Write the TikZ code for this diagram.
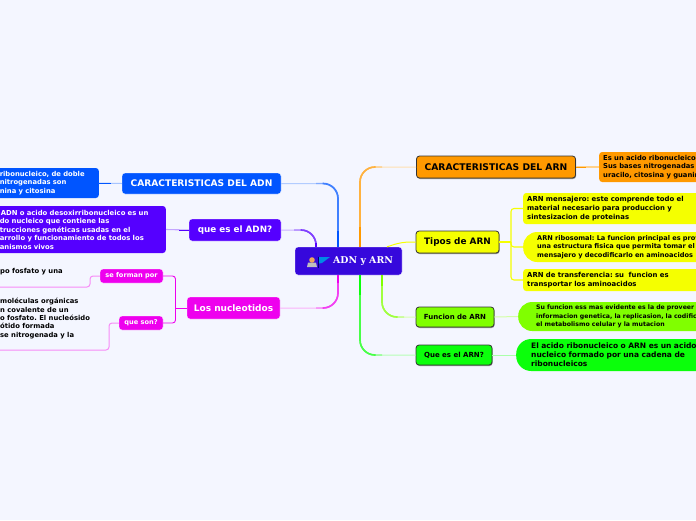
\documentclass[tikz,border=0pt]{standalone}
\usepackage{fontspec}
\setmainfont{DejaVu Sans}
\newfontfamily\titlefont{DejaVu Serif}
\usetikzlibrary{calc,shadows}
\definecolor{bgc}{HTML}{F4F6FF}
\definecolor{cblue}{HTML}{0055FF}
\definecolor{cviolet}{HTML}{5500FF}
\definecolor{cmag}{HTML}{EE00EE}
\definecolor{corange}{HTML}{FF9900}
\definecolor{cyel}{HTML}{F5FF00}
\definecolor{clime}{HTML}{80FF00}
\definecolor{cgreen}{HTML}{0BFF0B}
\definecolor{croot}{HTML}{3608DC}
\newcommand{\fsz}[2]{\fontsize{#1pt}{#2pt}\selectfont\bfseries\frenchspacing}
\tikzset{
  x=1pt,y=-1pt,
  topicbox/.style={rounded corners=3pt,inner sep=0pt,align=center,text=white,draw=white,line width=.3pt},
  darkbox/.style={rounded corners=3pt,inner sep=0pt,align=center,text=black,draw=black!80,line width=.8pt,
     drop shadow={shadow xshift=.6pt,shadow yshift=-1pt,fill=black!45,opacity=1}},
  leafbox/.style={rounded corners=3pt,inner ysep=0pt,align=left,anchor=west,text width=300pt},
  leftleaf/.style={rounded corners=3pt,inner ysep=0pt,inner xsep=10pt,align=left,anchor=east,text=white},
  plain/.style={inner sep=0pt,align=left,anchor=west,text=black},
}
% root branch: faint at the far node, strong toward the root
\newcommand{\branch}[3]{%
  \draw[#1!30,line width=1pt,rounded corners=15pt] (#2) -| (#3);
  \draw[#1!50,line width=1.3pt,rounded corners=15pt] ($(#2 -| #3)!22pt!(#2)$) -| (#3);
  \draw[#1!75,line width=1.7pt,rounded corners=15pt] ($(#2 -| #3)!15.5pt!(#2)$) -| (#3);
  \draw[#1,line width=2.5pt] ($(#2 -| #3)!.75!(#3)$) -- (#3);
}
\begin{document}
\begin{tikzpicture}
\useasboundingbox (0,0) rectangle (696,520);
\clip (0,0) rectangle (696,520);
\fill[bgc] (0,0) rectangle (696,520);

% root branches are drawn under the nodes
\coordinate (rootn) at (348.5,247);
\coordinate (roots) at (348.5,275);

% root
\node[topicbox,fill=croot,minimum width=107pt,minimum height=28pt] (root) at (348.5,261) {};
\node[inner sep=0pt,text=white,anchor=west,font=\titlefont\fsz{9.4}{11}] (roottext) at (333,261) {ADN y ARN};
\coordinate (icon) at (307,257);
\fill[black!25] ($(icon)+(0,10)$) -- ($(icon)+(1,5.5)$) -- ($(icon)+(9,5.5)$) -- ($(icon)+(10,10)$) -- cycle;
\fill[orange!60!brown!70] ($(icon)+(5,3)$) circle (2.8pt);
\draw[black!55!blue,line width=.9pt] ($(icon)+(11.5,-.5)$) -- ($(icon)+(11.5,11)$);
\fill[blue!40!cyan!90!black] ($(icon)+(12,0)$) -- ($(icon)+(23,0)$) -- ($(icon)+(15,6)$) -- ($(icon)+(12,6.5)$) -- cycle;

% right main topics
\node[darkbox,fill=corange,minimum width=159pt,minimum height=22pt,font=\fsz{9.2}{10}] (carn) at (496,167) {CARACTERISTICAS DEL ARN};
\node[darkbox,fill=cyel,minimum width=83pt,minimum height=22pt,font=\fsz{8.9}{11}] (tipos) at (457.5,242) {Tipos de ARN};
\node[darkbox,fill=clime,minimum width=78pt,minimum height=20pt,font=\fsz{7}{9}] (func) at (455,317) {Funcion de ARN};
\node[darkbox,fill=cgreen,minimum width=76pt,minimum height=20pt,font=\fsz{7}{9}] (queesarn) at (454,355) {Que es el ARN?};

% right leaves
\node[leafbox,fill=corange,inner xsep=4pt,minimum height=30pt,font=\fsz{6.8}{8.2}] (l1) at (599,167) {Es un acido ribonucleico\\Sus bases nitrogenadas\\uracilo, citosina y guanina};
\node[leafbox,fill=cyel,inner xsep=4pt,minimum height=31pt,font=\fsz{6.9}{8.6}] (l2) at (523,208.5) {ARN mensajero: este comprende todo el\\material necesario para produccion y\\sintesizacion de proteinas};
\node[leafbox,fill=cyel,rounded corners=14pt,inner xsep=14pt,minimum height=30pt,font=\fsz{6.6}{8.2}] (l3) at (523,247) {ARN ribosomal: La funcion principal es proveer\\una estructura fisica que permita tomar el ARN\\mensajero y decodificarlo en aminoacidos};
\node[leafbox,fill=cyel,inner xsep=4pt,minimum height=22pt,font=\fsz{6.9}{8.3}] (l4) at (523,280) {ARN de transferencia: su\ \ funcion es\\transportar los aminoacidos};
\node[leafbox,fill=clime,rounded corners=14pt,inner xsep=18pt,minimum height=29pt,font=\fsz{6.2}{8.2}] (l5) at (518,316.5) {Su funcion ess mas evidente es la de proveer la\\informacion genetica, la replicasion, la codificacion\\el metabolismo celular y la mutacion};
\node[leafbox,fill=cgreen,rounded corners=15pt,inner xsep=15pt,minimum height=32pt,font=\fsz{7.5}{9}] (l6) at (516,355) {El acido ribonucleico o ARN es un acido\\nucleico formado por una cadena de\\ribonucleicos};

% left main topics
\node[topicbox,fill=cblue,minimum width=159pt,minimum height=21pt,font=\fsz{9.1}{10}] (cadn) at (201.5,183.5) {CARACTERISTICAS DEL ADN};
\node[topicbox,fill=cviolet,minimum width=92pt,minimum height=22pt,font=\fsz{8.8}{11}] (queadn) at (235,230) {que es el ADN?};
\node[topicbox,fill=cmag,minimum width=93pt,minimum height=22pt,font=\fsz{9}{11}] (nucl) at (233.5,308) {Los nucleotidos};
\node[topicbox,fill=cmag,minimum width=63pt,minimum height=14pt,font=\fsz{6.6}{8}] (forman) at (131.5,276) {se forman por};
\node[topicbox,fill=cmag,minimum width=44pt,minimum height=14pt,font=\fsz{6.6}{8}] (queson) at (141,323) {que son?};

% left leaves
\node[leftleaf,fill=cblue,minimum width=109pt,text width=89pt,minimum height=30pt,font=\fsz{6.8}{8.2}] (b1) at (99,183) {ribonucleico, de doble\\nitrogenadas son\\nina y citosina};
\node[leftleaf,fill=cviolet,minimum width=176pt,text width=156pt,minimum height=47pt,font=\fsz{6.85}{8.5}] (b2) at (166,229.5) {\hspace{1pt}ADN o acido desoxirribonucleico es un\\do nucleico que contiene las\\trucciones genéticas usadas en el\\arrollo y funcionamiento de todos los\\anismos vivos};
\node[plain,font=\fsz{6.8}{8.3}] (t1) at (0,271.5) {po fosfato y una};
\node[plain,font=\fsz{6.8}{8.3}] (t2) at (0,318.5) {moléculas orgánicas\\n covalente de un\\o fosfato. El nucleósido\\ótido formada\\se nitrogenada y la};

% root branches
\branch{cblue}{cadn.east}{root.north -| 338,0}
\branch{cviolet}{queadn.east}{root.north -| 316,0}
\branch{cmag}{nucl.east}{root.south -| 338,0}
\branch{corange}{carn.west}{root.north -| 360,0}
\branch{clime}{func.west}{root.south -| 382,0}
\branch{cgreen}{queesarn.west}{root.south -| 360,0}
\draw[cyel,line width=1pt,rounded corners=8pt] (tipos.west) -- ($(tipos.west)+(-14,0)$) -- (root.north -| 387,0);

% leaf connectors
\draw[corange!45,line width=1.1pt] (carn.east) -- (l1.west);
\draw[corange,line width=1pt] (carn.east) -- ++(10,0);
\coordinate (spine) at (511,242);
\draw[cyel,line width=1.1pt] (tipos.east) -- (spine);
\draw[cyel,line width=1.1pt,rounded corners=3pt] (l2.west) -| (spine) |- (l4.west);
\draw[cyel,line width=1.1pt,rounded corners=3pt] (spine) |- (l3.west);
\draw[clime!35,line width=1pt] (func.east) -- (l5.west);
\draw[cgreen!35,line width=1pt] (queesarn.east) -- (l6.west);
\draw[cblue!35,line width=1pt] (cadn.west) -- (b1.east);
\draw[cblue,line width=.8pt] (b1.east) -- ++(12,0);
\draw[cviolet!35,line width=1.1pt] (queadn.west) -- (b2.east);
\draw[cviolet,line width=.8pt] (queadn.west) -- ++(-10,0);
\coordinate (mspine) at (175.5,308);
\draw[cmag,line width=1pt] (nucl.west) -- (mspine);
\draw[cmag,line width=.9pt,rounded corners=3pt] (forman.east) -| (mspine) |- (queson.east);
\coordinate (e1) at (0,287);
\coordinate (e2) at (0,350);
\draw[cmag!45,line width=1pt,rounded corners=3pt] (forman.west) -| (90,287) -- (e1);
\draw[cmag!45,line width=1pt,rounded corners=3pt] (queson.west) -| (109,350) -- (e2);
\end{tikzpicture}
\end{document}
